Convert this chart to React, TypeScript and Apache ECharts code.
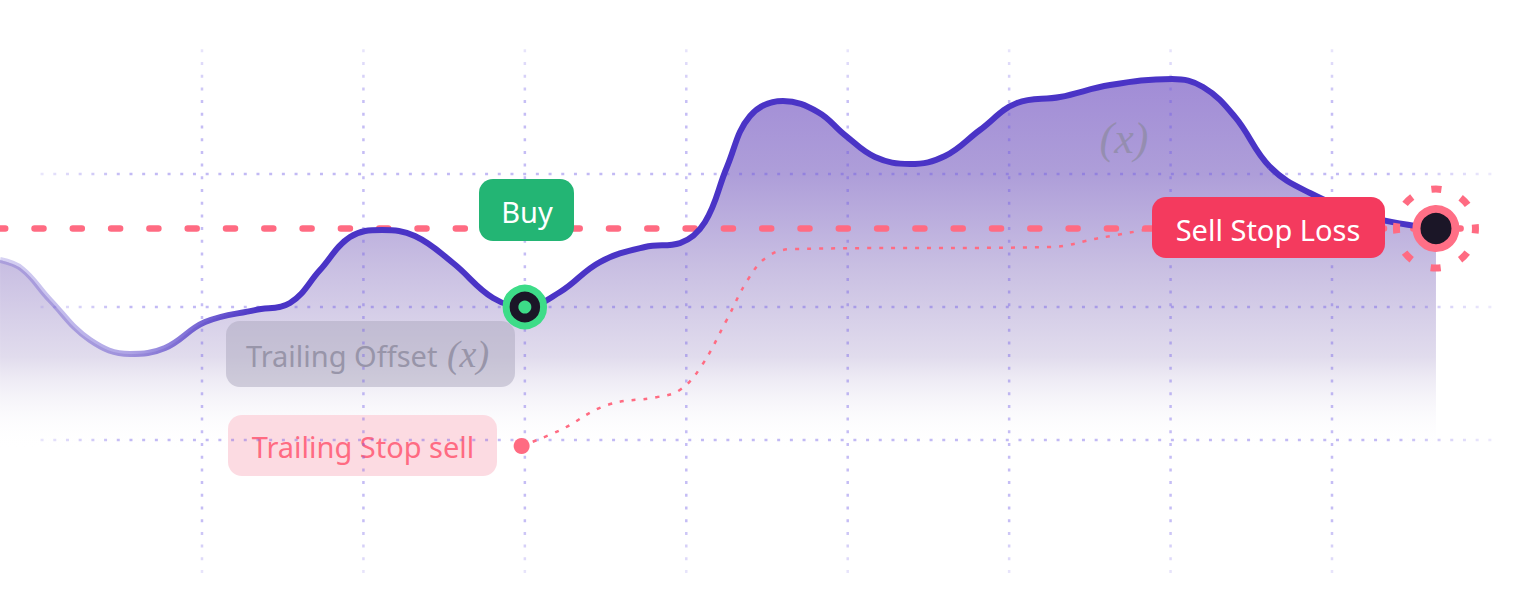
import React, { useEffect, useRef } from "react";
import * as echarts from "echarts";

// Grid lattice (time steps on x, price levels on y)
const gridXs = [1, 2, 3, 4, 5, 6, 7, 8];
const gridYs = [100, 110, 120];
const gridXSpan = [0, 9];
const gridYSpan = [90, 130];

// Price curve
const priceX = [-0.251, -0.115, 0.058, 0.306, 0.554, 0.771, 1.019, 1.328, 1.545, 1.731, 1.917, 2.115, 2.319, 2.555, 2.803, 3.0, 3.218, 3.465, 3.744, 3.961, 4.116, 4.252, 4.395, 4.599, 4.816, 4.983, 5.169, 5.386, 5.603, 5.819, 6.049, 6.315, 6.625, 7.009, 7.201, 7.399, 7.616, 7.864, 8.236, 8.644];
const priceY = [113.53, 112.86, 110.53, 107.52, 106.47, 106.92, 108.87, 109.77, 110.3, 112.78, 115.26, 115.79, 115.34, 113.31, 110.68, 110.0, 111.13, 113.38, 114.51, 114.81, 116.39, 120.53, 124.36, 125.49, 124.66, 122.93, 121.28, 120.75, 121.35, 123.31, 125.34, 125.79, 126.69, 127.14, 126.54, 124.29, 120.53, 118.57, 116.77, 115.9];

// Trailing stop curve
const trailX = [2.98, 3.22, 3.51, 3.82, 3.96, 4.09, 4.25, 4.38, 4.5, 4.66, 6.25, 6.56, 6.87];
const trailY = [99.55, 100.75, 102.63, 103.23, 103.76, 105.49, 109.02, 112.03, 113.76, 114.36, 114.51, 115.19, 115.86];

// Stop loss level
const stopLevel = 115.9;
const stopXSpan = [-0.25, 8.92];

// Events
const buyPoint = [3.0, 110.0];
const sellPoint = [8.644, 115.9];
const trailStart = [2.98, 99.55];

const PINK = "#ff6b82";
const GREEN = "#3ddc88";
const DARK = "#1b1627";
const FONT = '"Noto Sans", "Open Sans", sans-serif';
const SERIF = '"Liberation Serif", "DejaVu Serif", serif';
const SMOOTH = 0.4;

export default function App() {
  const ref = useRef<HTMLDivElement>(null);

  useEffect(() => {
    document.body.style.margin = "0";
    const chart = echarts.init(ref.current!, null, { renderer: "svg" });
    const G = echarts.graphic.LinearGradient;

    const priceData = priceX.map((x, i) => [x, priceY[i]]);
    const trailData = trailX.map((x, i) => [x, trailY[i]]);

    const gridV = gridXs.map((x) => ({
      type: "line",
      silent: true,
      symbol: "none",
      z: 3,
      data: [
        [x, gridYSpan[0]],
        [x, gridYSpan[1]],
      ],
      lineStyle: {
        width: 2.5,
        type: [3, 9.7],
        color: new G(0, 40, 0, 575, [
          { offset: 0, color: "rgba(110,90,230,0.12)" },
          { offset: 0.12, color: "rgba(110,90,230,0.4)" },
          { offset: 0.9, color: "rgba(110,90,230,0.4)" },
          { offset: 1, color: "rgba(110,90,230,0.15)" },
        ], true),
      },
    }));

    const gridH = gridYs.map((y) => ({
      type: "line",
      silent: true,
      symbol: "none",
      z: 3,
      data: [
        [gridXSpan[0], y],
        [gridXSpan[1], y],
      ],
      lineStyle: {
        width: 2.5,
        type: [3, 9.7],
        color: new G(40, 0, 1495, 0, [
          { offset: 0, color: "rgba(110,90,230,0.15)" },
          { offset: 0.06, color: "rgba(110,90,230,0.42)" },
          { offset: 0.93, color: "rgba(110,90,230,0.42)" },
          { offset: 1, color: "rgba(110,90,230,0.12)" },
        ], true),
      },
    }));

    const baseGraphic: any[] = [
      {
        type: "rect",
        z: 2,
        silent: true,
        shape: { x: 226, y: 321, width: 289, height: 66, r: 14 },
        style: { fill: "rgba(172,168,190,0.5)" },
      },
      {
        type: "text",
        z: 2,
        silent: true,
        x: 246,
        y: 355,
        style: {
          text: "Trailing Offset",
          fill: "#9895a9",
          fontSize: 29,
          fontFamily: FONT,
          align: "left",
          verticalAlign: "middle",
        },
      },
      {
        type: "text",
        z: 2,
        silent: true,
        x: 468,
        y: 354,
        style: {
          text: "(x)",
          fill: "#9895a9",
          fontSize: 38,
          fontStyle: "italic",
          fontFamily: SERIF,
          align: "center",
          verticalAlign: "middle",
        },
      },
      {
        type: "rect",
        z: 2,
        silent: true,
        shape: { x: 228, y: 415, width: 269, height: 61, r: 14 },
        style: { fill: "rgba(252,214,222,0.88)" },
      },
      {
        type: "text",
        z: 2,
        silent: true,
        x: 363,
        y: 446,
        style: {
          text: "Trailing Stop sell",
          fill: PINK,
          fontSize: 29,
          fontFamily: FONT,
          align: "center",
          verticalAlign: "middle",
        },
      },
      {
        type: "text",
        z: 2,
        silent: true,
        x: 1124,
        y: 138,
        style: {
          text: "(x)",
          fill: "rgba(135,135,150,0.6)",
          fontSize: 44,
          fontStyle: "italic",
          fontFamily: SERIF,
          align: "center",
          verticalAlign: "middle",
        },
      },
      {
        type: "rect",
        z: 10,
        silent: true,
        shape: { x: 479, y: 179, width: 95, height: 62, r: 14 },
        style: { fill: "#23b574" },
      },
      {
        type: "text",
        z: 11,
        silent: true,
        x: 527,
        y: 211,
        style: {
          text: "Buy",
          fill: "#ffffff",
          fontSize: 29,
          fontFamily: FONT,
          align: "center",
          verticalAlign: "middle",
        },
      },
      {
        type: "rect",
        z: 10,
        silent: true,
        shape: { x: 1152, y: 197, width: 233, height: 61, r: 14 },
        style: { fill: "#f43a5e" },
      },
      {
        type: "text",
        z: 11,
        silent: true,
        x: 1268,
        y: 229,
        style: {
          text: "Sell Stop Loss",
          fill: "#ffffff",
          fontSize: 29,
          fontFamily: FONT,
          align: "center",
          verticalAlign: "middle",
        },
      },
    ];

    chart.setOption({
      animation: false,
      grid: { left: 0, right: 0, top: 0, bottom: 0, containLabel: false },
      xAxis: { type: "value", min: -0.2513, max: 9.2637, show: false },
      yAxis: { type: "value", min: 86.918, max: 133.083, show: false },
      series: [
        {
          type: "line",
          silent: true,
          smooth: SMOOTH,
          showSymbol: false,
          z: 1,
          data: priceData,
          lineStyle: { width: 0, opacity: 0 },
          areaStyle: {
            origin: "start",
            opacity: 1,
            color: new G(0, 78, 0, 450, [
              { offset: 0, color: "rgb(161,140,214)" },
              { offset: 0.26, color: "rgb(174,158,217)" },
              { offset: 0.5, color: "rgb(200,190,226)" },
              { offset: 0.75, color: "rgb(225,220,237)" },
              { offset: 1, color: "rgba(255,255,255,0)" },
            ], true),
          },
        },
        ...gridV,
        ...gridH,
        {
          type: "line",
          silent: true,
          symbol: "none",
          z: 3,
          data: [
            [stopXSpan[0], stopLevel],
            [stopXSpan[1], stopLevel],
          ],
          lineStyle: { color: PINK, width: 6.5, type: [9, 29.3], dashOffset: 4, cap: "round" },
        },
        {
          type: "line",
          silent: true,
          symbol: "none",
          smooth: 0.4,
          z: 3,
          data: trailData,
          lineStyle: { color: PINK, width: 2.5, type: [4, 8] },
        },
        {
          type: "line",
          silent: true,
          smooth: SMOOTH,
          showSymbol: false,
          z: 4,
          data: priceData,
          lineStyle: {
            width: 6,
            color: new G(0, 0, 260, 0, [
              { offset: 0, color: "rgba(74,52,198,0.22)" },
              { offset: 0.5, color: "rgba(74,52,198,0.45)" },
              { offset: 1, color: "rgba(74,52,198,1)" },
            ], true),
          },
        },
        {
          type: "scatter",
          silent: true,
          z: 5,
          symbolSize: 16,
          data: [trailStart],
          itemStyle: { color: PINK, opacity: 1 },
        },
        {
          type: "scatter",
          silent: true,
          z: 6,
          symbolSize: 37.5,
          data: [buyPoint],
          itemStyle: { color: DARK, borderColor: GREEN, borderWidth: 7, opacity: 1 },
        },
        {
          type: "scatter",
          silent: true,
          z: 7,
          symbolSize: 13,
          data: [buyPoint],
          itemStyle: { color: GREEN, opacity: 1 },
        },
        {
          type: "scatter",
          silent: true,
          z: 6,
          symbolSize: 39,
          data: [sellPoint],
          itemStyle: { color: DARK, borderColor: "#ff6f86", borderWidth: 8, opacity: 1 },
        },
      ],
      graphic: baseGraphic,
    });

    // dashed halo around the sell point, anchored through the axes
    const [cx, cy] = chart.convertToPixel({ gridIndex: 0 }, sellPoint) as number[];
    chart.setOption({
      graphic: [
        ...baseGraphic,
        {
          type: "circle",
          z: 5,
          silent: true,
          shape: { cx, cy, r: 39.5 },
          style: {
            fill: "none",
            stroke: PINK,
            lineWidth: 7,
            lineDash: [10, 21.02],
            lineDashOffset: 5,
          },
        },
      ],
    });

    return () => chart.dispose();
  }, []);

  return <div ref={ref} style={{ width: 1536, height: 614 }} />;
}
